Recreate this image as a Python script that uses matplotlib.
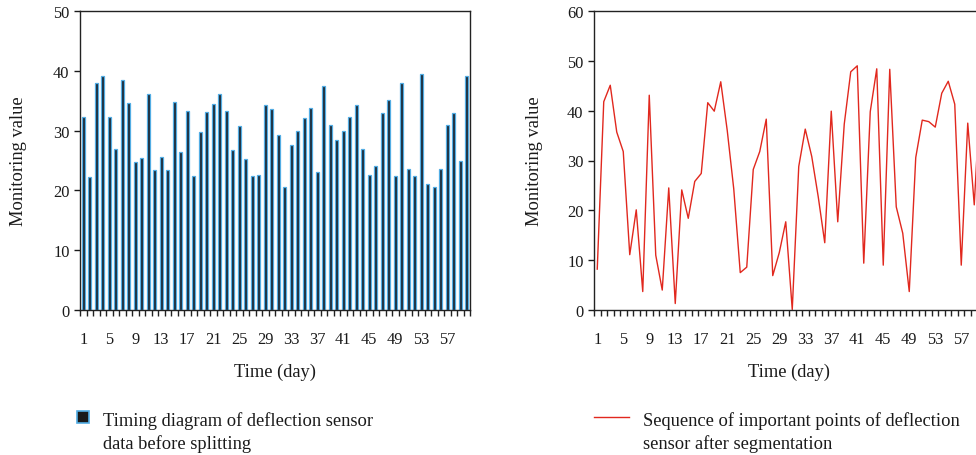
import numpy as np
import matplotlib
matplotlib.use("Agg")
import matplotlib.pyplot as plt
from matplotlib.lines import Line2D

plt.rcParams['font.family'] = ['Liberation Serif', 'DejaVu Serif']

# ---- data ----
days = list(range(1, 61))
before_split = [32.2, 22.2, 37.9, 39.2, 32.2, 27.0, 38.4, 34.6, 24.7, 25.5,
                36.1, 23.4, 25.6, 23.4, 34.8, 26.5, 33.3, 22.4, 29.8, 33.1,
                34.5, 36.1, 33.2, 26.7, 30.7, 25.3, 22.4, 22.6, 34.2, 33.6,
                29.2, 20.5, 27.6, 29.9, 32.1, 33.7, 23.0, 37.4, 31.0, 28.5,
                29.9, 32.2, 34.3, 27.0, 22.5, 24.1, 33.0, 35.1, 22.4, 38.0,
                23.6, 22.4, 39.5, 21.1, 20.5, 23.6, 31.0, 32.9, 25.0, 39.2]
after_seg = [8.2, 41.8, 45.1, 35.7, 31.8, 11.1, 20.1, 3.7, 43.1, 11.0,
             4.0, 24.5, 1.3, 24.1, 18.4, 25.8, 27.4, 41.6, 39.9, 45.8,
             36.0, 24.3, 7.5, 8.6, 28.2, 31.8, 38.3, 6.9, 11.5, 17.7,
             0.1, 28.8, 36.3, 30.8, 22.7, 13.5, 39.9, 17.7, 37.3, 47.8,
             49.0, 9.4, 39.8, 48.4, 9.0, 48.3, 20.7, 15.4, 3.7, 30.6,
             38.1, 37.8, 36.7, 43.5, 45.9, 41.3, 9.0, 37.5, 21.1, 45.0]
tick_days = [1, 5, 9, 13, 17, 21, 25, 29, 33, 37, 41, 45, 49, 53, 57]
tick_labels = ['1', '5', '9', '13', '17', '21', '25', '29', '33', '37',
               '41', '45', '49', '53', '57']
left_yticks = [0, 10, 20, 30, 40, 50]
right_yticks = [0, 10, 20, 30, 40, 50, 60]
legend_left = 'Timing diagram of deflection sensor\ndata before splitting'
legend_right = 'Sequence of important points of deflection\nsensor after segmentation'

BAR_FILL = '#1b2733'
BAR_EDGE = '#52ade4'
LINE_RED = '#e1281e'
TXT = '#1a1a1a'
FS_TICK = 11.8
FS_LAB = 13.3

W, H = 976, 456
fig = plt.figure(figsize=(W / 100, H / 100), dpi=100)

def fx(px):
    return px / W

def fy(px):
    return 1 - px / H

axL = fig.add_axes([fx(80), fy(311), 390 / W, 299 / H])
axR = fig.add_axes([fx(594), fy(311), 390 / W, 299 / H])

def style(ax, yticks, ylab_x):
    ax.set_xlim(0.5, 60.5)
    ax.set_ylim(yticks[0], yticks[-1])
    ax.set_yticks(yticks)
    ax.set_xticks(tick_days)
    ax.set_xticklabels(tick_labels)
    ax.set_xticks(np.arange(0.5, 61, 1), minor=True)
    ax.tick_params(axis='x', which='major', length=0, pad=15,
                   labelsize=FS_TICK, colors=TXT)
    ax.tick_params(axis='x', which='minor', length=4.5, width=1.0,
                   direction='out', color='#222222')
    ax.tick_params(axis='y', which='major', length=4.5, width=1.0,
                   direction='out', pad=3, labelsize=FS_TICK, colors=TXT)
    for s in ax.spines.values():
        s.set_linewidth(1.0)
        s.set_color('#222222')
    ax.set_xlabel('Time (day)', fontsize=FS_LAB, color=TXT)
    ax.set_ylabel('Monitoring value', fontsize=FS_LAB, color=TXT)
    ax.xaxis.set_label_coords(0.5, -0.175)
    ax.yaxis.set_label_coords(ylab_x, 0.5)

style(axL, left_yticks, -0.135)
style(axR, right_yticks, -0.131)

axL.bar(days, before_split, width=0.4, color=BAR_FILL,
        edgecolor=BAR_EDGE, linewidth=0.9, zorder=2)
axR.plot(days, after_seg, color=LINE_RED, linewidth=1.0, clip_on=True)

hL = Line2D([], [], linestyle='none', marker='s', markersize=8,
            markerfacecolor='#1a1a1a', markeredgecolor=BAR_EDGE,
            markeredgewidth=1.2)
legL = fig.legend([hL], [legend_left], loc='upper left',
                  bbox_to_anchor=(fx(74), fy(412)), frameon=False,
                  fontsize=FS_LAB, borderpad=0, borderaxespad=0,
                  handlelength=1.0, handletextpad=0.55)
hR = Line2D([], [], color=LINE_RED, linewidth=1.0)
legR = fig.legend([hR], [legend_right], loc='upper left',
                  bbox_to_anchor=(fx(594), fy(412)), frameon=False,
                  fontsize=FS_LAB, borderpad=0, borderaxespad=0,
                  handlelength=1.9, handletextpad=0.75)
for lg in (legL, legR):
    for t in lg.get_texts():
        t.set_linespacing(1.4)
        t.set_color(TXT)
    # align the handle with the first text line
    for col in lg._legend_handle_box.get_children():
        for item in col.get_children():
            item.align = 'top'

fig.savefig('out.png', dpi=100)
